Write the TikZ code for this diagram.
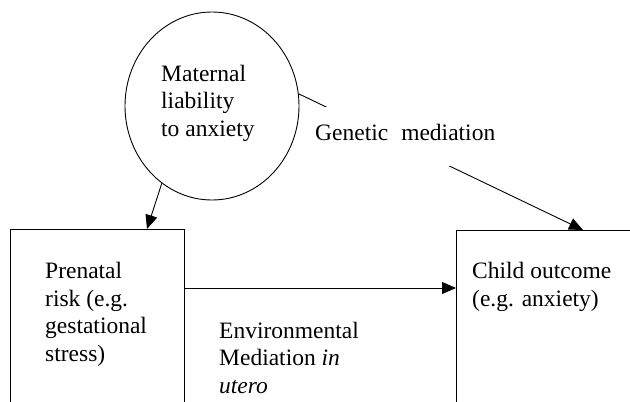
\documentclass[tikz,border=0pt]{standalone}
\usepackage{fontspec}
\setmainfont{Liberation Serif}
\usetikzlibrary{arrows.meta,shapes.geometric,calc}
\begin{document}
\begin{tikzpicture}[x=1pt,y=-1pt,
  txt/.style={font=\fontsize{23.5}{27.5}\selectfont, align=left, inner sep=0pt, anchor=base west},
  arr/.style={-{Triangle[length=14pt,width=12pt]}, line width=0.9pt},
  boxshape/.style={draw, line width=0.9pt, rectangle, anchor=north west, inner sep=0pt}]
\useasboundingbox (0,0) rectangle (630,402);
\clip (0,0) rectangle (630,402);
\node[draw, line width=0.9pt, ellipse, minimum width=174pt, minimum height=188pt, inner sep=0pt] (ell) at (212,106) {};
\node[boxshape, minimum width=174pt, minimum height=200pt] (pre) at (10,229) {};
\node[boxshape, minimum width=200pt, minimum height=200pt] (child) at (456,230) {};
\node[txt] (mat) at (161,136) {Maternal\\liability\\to anxiety};
\node[txt] (pr) at (45,361) {Prenatal\\risk (e.g.\\gestational\\stress)};
\node[txt] (co) at (472,306) {Child outcome\\(e.g. anxiety)};
\node[txt] (env) at (219,393) {Environmental\\Mediation \textit{in}\\\textit{utero}};
\draw[arr] (ell.237) -- ($(pre.north west)+(137,0)$);
\draw[arr] ($(pre.north east)+(0,59)$) -- ($(child.north west)+(0,58)$);
\draw[arr] (ell.8) -- ($(child.north west)+(127,0)$);
\node[font=\fontsize{23.5}{28}\selectfont, fill=white, text height=33pt, text depth=26pt, inner ysep=0pt, inner xsep=4pt, anchor=west] (gm) at (311,136.5) {Genetic\hspace{13pt}mediation};
\end{tikzpicture}
\end{document}
